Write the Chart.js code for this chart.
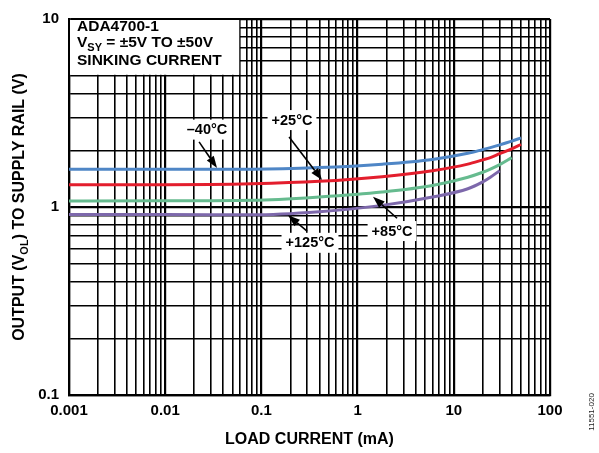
<!DOCTYPE html>
<html>
<head>
<meta charset="utf-8">
<script src="https://cdn.jsdelivr.net/npm/chart.js@4/dist/chart.umd.min.js"></script>
<style>
  html, body { margin: 0; padding: 0; background: #fff; }
  #wrap { width: 599px; height: 453px; position: relative; }
</style>
</head>
<body>
<div id="wrap"><canvas id="c" width="599" height="453"></canvas></div>
<script>
// Load current (mA) sample points shared by all curves
const loadCurrent = [0.001, 0.01, 0.08, 0.4, 1.8, 6, 14, 20, 24, 30, 40, 50];

// Output voltage to supply rail (V) at each temperature; null = no data
const vMinus40 = [1.59, 1.59, 1.59, 1.62, 1.69, 1.79, 1.93, 2.02, 2.07, 2.14, 2.24, 2.33];
const vPlus25  = [1.315, 1.315, 1.33, 1.37, 1.45, 1.56, 1.69, 1.78, 1.83, 1.92, 2.04, 2.15];
const vPlus85  = [1.077, 1.078, 1.085, 1.13, 1.20, 1.30, 1.44, 1.53, 1.59, 1.68, 1.83, null];
const vPlus125 = [0.911, 0.911, 0.909, 0.944, 1.02, 1.13, 1.25, 1.36, 1.44, 1.56, null, null];

const seriesNames = ['\u201340\u00b0C', '+25\u00b0C', '+85\u00b0C', '+125\u00b0C'];

// Decade tick labels
const xTickLabels = ['0.001', '0.01', '0.1', '1', '10', '100'];
const yTickLabels = ['0.1', '1', '10'];

const FONT = "'Liberation Sans', Arial, Helvetica, sans-serif";

function toPoints(xs, ys) {
  const pts = [];
  xs.forEach((x, i) => { if (ys[i] !== null) pts.push({ x: x, y: ys[i] }); });
  return pts;
}

// Decade ticks plus the 2..9 minor ticks between them
function logTicks(labels) {
  const decades = labels.map(Number);
  const ticks = [];
  decades.forEach((d, i) => {
    ticks.push({ value: d, major: true });
    if (i < decades.length - 1) {
      for (let k = 2; k <= 9; k++) ticks.push({ value: +(d * k).toPrecision(6), major: false });
    }
  });
  return ticks;
}

function decadeLabel(labels) {
  return function (value) {
    const hit = labels.find(l => Math.abs(Number(l) - value) < Number(l) * 1e-6);
    return hit === undefined ? '' : hit;
  };
}

// Text runs with optional subscript pieces
function runsWidth(ctx, runs, size, subSize) {
  let w = 0;
  runs.forEach(r => {
    ctx.font = 'bold ' + (r.sub ? subSize : size) + 'px ' + FONT;
    w += ctx.measureText(r.t).width;
  });
  return w;
}
function drawRuns(ctx, runs, x, y, size, subSize, subDrop) {
  let cx = x;
  runs.forEach(r => {
    ctx.font = 'bold ' + (r.sub ? subSize : size) + 'px ' + FONT;
    ctx.fillText(r.t, cx, r.sub ? y + subDrop : y);
    cx += ctx.measureText(r.t).width;
  });
}

// Curve callouts: label centre, arrow tail and arrow tip in data units
const callouts = [
  { text: seriesNames[0], at: [0.0272, 2.58], tail: [0.0225, 2.22], tip: [0.0346, 1.61] },
  { text: seriesNames[1], at: [0.208, 2.90],  tail: [0.194, 2.36],  tip: [0.427, 1.39] },
  { text: seriesNames[2], at: [2.28, 0.745],  tail: [2.57, 0.871],  tip: [1.445, 1.134] },
  { text: seriesNames[3], at: [0.32, 0.645],  tail: [0.298, 0.745], tip: [0.189, 0.903] }
];

const decorations = {
  id: 'decorations',
  beforeDatasetsDraw(chart) {
    const { ctx, chartArea, scales } = chart;
    const x = scales.x, y = scales.y;
    // white info panel in the upper-left corner of the plot
    const right = x.getPixelForValue(0.06) - 0.8;
    const bottom = y.getPixelForValue(5) - 0.8;
    ctx.save();
    ctx.fillStyle = '#fff';
    ctx.fillRect(chartArea.left + 1, chartArea.top + 1, right - chartArea.left - 1, bottom - chartArea.top - 1);
    ctx.fillStyle = '#000';
    ctx.textBaseline = 'alphabetic';
    ctx.textAlign = 'left';
    const lx = chartArea.left + 8;
    drawRuns(ctx, [{ t: 'ADA4700-1' }], lx, 30.5, 15.5, 11, 0);
    drawRuns(ctx, [{ t: 'V' }, { t: 'SY', sub: true }, { t: ' = \u00b15V TO \u00b150V' }], lx, 47, 15.5, 11, 3.5);
    drawRuns(ctx, [{ t: 'SINKING CURRENT' }], lx, 64.5, 15.5, 11, 0);
    ctx.restore();
  },
  afterDatasetsDraw(chart) {
    const { ctx, scales } = chart;
    const x = scales.x, y = scales.y;
    const px = p => [x.getPixelForValue(p[0]), y.getPixelForValue(p[1])];
    ctx.save();
    callouts.forEach(c => {
      const [tx, ty] = px(c.tail);
      const [hx, hy] = px(c.tip);
      const ang = Math.atan2(hy - ty, hx - tx);
      const headLen = 12, headHalf = 4.2;
      const bx = hx - headLen * Math.cos(ang), by = hy - headLen * Math.sin(ang);
      ctx.strokeStyle = '#000';
      ctx.lineWidth = 1.6;
      ctx.beginPath();
      ctx.moveTo(tx, ty);
      ctx.lineTo(bx, by);
      ctx.stroke();
      ctx.fillStyle = '#000';
      ctx.beginPath();
      ctx.moveTo(hx, hy);
      ctx.lineTo(bx + headHalf * Math.sin(ang), by - headHalf * Math.cos(ang));
      ctx.lineTo(bx - headHalf * Math.sin(ang), by + headHalf * Math.cos(ang));
      ctx.closePath();
      ctx.fill();

      const [cx, cy] = px(c.at);
      ctx.font = 'bold 14.5px ' + FONT;
      const w = ctx.measureText(c.text).width;
      ctx.fillStyle = '#fff';
      ctx.fillRect(cx - w / 2 - 4, cy - 10, w + 8, 20);
      ctx.fillStyle = '#000';
      ctx.textAlign = 'center';
      ctx.textBaseline = 'middle';
      ctx.fillText(c.text, cx, cy + 0.5);
    });
    ctx.restore();
  },
  afterDraw(chart) {
    const { ctx, chartArea } = chart;
    ctx.save();
    // vertical axis title with subscript
    const runs = [{ t: 'OUTPUT (V' }, { t: 'OL', sub: true }, { t: ') TO SUPPLY RAIL (V)' }];
    const w = runsWidth(ctx, runs, 16, 11);
    ctx.translate(18, (chartArea.top + chartArea.bottom) / 2);
    ctx.rotate(-Math.PI / 2);
    ctx.fillStyle = '#000';
    ctx.textAlign = 'left';
    ctx.textBaseline = 'alphabetic';
    drawRuns(ctx, runs, -w / 2, 6, 16, 11, 3.5);
    ctx.restore();

    // figure number along the right edge
    ctx.save();
    ctx.translate(592, 412);
    ctx.rotate(-Math.PI / 2);
    ctx.font = '8px ' + FONT;
    ctx.fillStyle = '#222';
    ctx.textAlign = 'center';
    ctx.textBaseline = 'middle';
    ctx.fillText('11551-020', 0, 0);
    ctx.restore();
  }
};

const colors = ['#4f86c6', '#e31e2d', '#66bb8f', '#7d68ab'];
const values = [vMinus40, vPlus25, vPlus85, vPlus125];

new Chart(document.getElementById('c'), {
  type: 'line',
  data: {
    datasets: values.map((v, i) => ({
      label: seriesNames[i],
      data: toPoints(loadCurrent, v),
      borderColor: colors[i],
      borderWidth: 3,
      pointRadius: 0,
      fill: false,
      cubicInterpolationMode: 'monotone',
      tension: 0.4
    }))
  },
  options: {
    responsive: false,
    devicePixelRatio: 1,
    animation: false,
    layout: { padding: { top: 12, right: 49, left: 0, bottom: 0 } },
    plugins: { legend: { display: false }, tooltip: { enabled: false } },
    scales: {
      x: {
        type: 'logarithmic',
        min: 0.001,
        max: 100,
        afterBuildTicks: s => { s.ticks = logTicks(xTickLabels); },
        afterFit: s => { s.height = 58; },
        grid: {
          color: '#000',
          lineWidth: c => (c.tick && c.tick.major ? 2.2 : 1.6),
          drawTicks: false
        },
        border: { display: true, color: '#000', width: 2.2 },
        ticks: {
          autoSkip: false,
          maxRotation: 0,
          padding: 7,
          color: '#000',
          font: { family: FONT, size: 15, weight: 'bold' },
          callback: decadeLabel(xTickLabels)
        },
        title: {
          display: true,
          text: 'LOAD CURRENT (mA)',
          color: '#000',
          font: { family: FONT, size: 16, weight: 'bold' },
          padding: { top: 0, bottom: 4 }
        }
      },
      y: {
        type: 'logarithmic',
        min: 0.1,
        max: 10,
        afterBuildTicks: s => { s.ticks = logTicks(yTickLabels); },
        afterFit: s => { s.width = 69; },
        grid: {
          color: '#000',
          lineWidth: c => (c.tick && c.tick.major ? 2.2 : 1.6),
          drawTicks: false
        },
        border: { display: true, color: '#000', width: 2.2 },
        ticks: {
          autoSkip: false,
          padding: 10,
          color: '#000',
          font: { family: FONT, size: 15, weight: 'bold' },
          callback: decadeLabel(yTickLabels)
        }
      }
    }
  },
  plugins: [decorations]
});
</script>
</body>
</html>
